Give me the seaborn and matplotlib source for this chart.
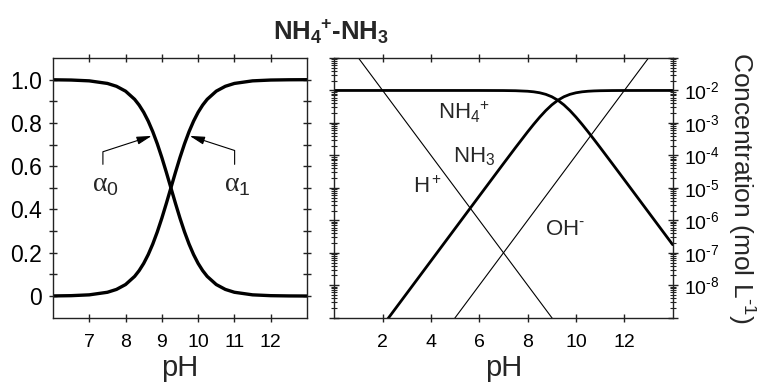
import numpy as np
import pandas as pd
import matplotlib
matplotlib.use("Agg")
import matplotlib.pyplot as plt
from matplotlib.ticker import FixedLocator, LogLocator, FixedFormatter, NullFormatter
import seaborn as sns

# ---- ionisation fractions of the NH4+/NH3 pair (pKa 9.25) ----
ph_frac = [6.0, 6.5, 7.0, 7.5, 7.75, 8.0, 8.25, 8.375, 8.5, 8.625, 8.75, 8.875,
           9.0, 9.125, 9.25, 9.375, 9.5, 9.625, 9.75, 9.875, 10.0, 10.125,
           10.25, 10.5, 10.75, 11.0, 11.5, 12.0, 12.5, 13.0]
alpha0 = [0.9994, 0.9982, 0.9944, 0.9825, 0.9693, 0.9468, 0.9091, 0.8823, 0.8491,
          0.8083, 0.7597, 0.7034, 0.6401, 0.5714, 0.5000, 0.4286, 0.3599, 0.2966,
          0.2403, 0.1917, 0.1509, 0.1177, 0.0909, 0.0532, 0.0307, 0.0175, 0.0056,
          0.0018, 0.0006, 0.0002]
alpha1 = [0.0006, 0.0018, 0.0056, 0.0175, 0.0307, 0.0532, 0.0909, 0.1177, 0.1509,
          0.1917, 0.2403, 0.2966, 0.3599, 0.4286, 0.5000, 0.5714, 0.6401, 0.7034,
          0.7597, 0.8083, 0.8491, 0.8823, 0.9091, 0.9468, 0.9693, 0.9825, 0.9944,
          0.9982, 0.9994, 0.9998]

# ---- log concentrations, total ammonia 0.01 mol/L ----
ph_conc = [0, 2, 4, 6, 7, 7.5, 8, 8.25, 8.5, 8.75, 9, 9.25, 9.5, 9.75, 10, 10.25,
           10.5, 10.75, 11, 11.5, 12, 13, 14]
log_nh4 = [-2.0000, -2.0000, -2.0000, -2.0002, -2.0024, -2.0077, -2.0238, -2.0414,
           -2.0711, -2.1193, -2.1938, -2.3010, -2.4438, -2.6193, -2.8211, -3.0414,
           -3.2738, -3.5135, -3.7577, -4.2524, -4.7507, -5.7502, -6.7501]
log_nh3 = [-11.25, -9.25, -7.25, -5.2502, -4.2524, -3.7577, -3.2738, -3.0414,
           -2.8211, -2.6193, -2.4438, -2.3010, -2.1938, -2.1193, -2.0711, -2.0414,
           -2.0238, -2.0135, -2.0077, -2.0024, -2.0008, -2.0001, -2.0000]
ph_water = [0, 14]
log_h = [0, -14]
log_oh = [-14, 0]

HY = "\u2010"  # short typographic hyphen used in superscripts
left_xticks = [7, 8, 9, 10, 11, 12]
left_yticks = [0, 0.2, 0.4, 0.6, 0.8, 1.0]
left_ylabels = ["0", "0.2", "0.4", "0.6", "0.8", "1.0"]
right_xticks = [2, 4, 6, 8, 10, 12]
conc_exps = [-9, -8, -7, -6, -5, -4, -3, -2, -1]
conc_labels = ["" if e in (-9, -1) else r"$\mathregular{10^{%s%d}}$" % (HY, -e)
               for e in conc_exps]

sns.set_theme(style="ticks")
plt.rcParams["font.family"] = ["Liberation Sans", "DejaVu Sans"]
plt.rcParams["mathtext.fontset"] = "custom"
plt.rcParams["mathtext.rm"] = "Liberation Sans"
plt.rcParams["mathtext.it"] = "Liberation Sans:italic"
plt.rcParams["mathtext.bf"] = "Liberation Sans:bold"
plt.rcParams["axes.edgecolor"] = "#222222"
plt.rcParams["axes.linewidth"] = 1.0
plt.rcParams["xtick.color"] = "#222222"
plt.rcParams["ytick.color"] = "#222222"
plt.rcParams["xtick.labelcolor"] = "black"
plt.rcParams["ytick.labelcolor"] = "black"

frac = pd.DataFrame({"pH": ph_frac, "a0": alpha0, "a1": alpha1})
conc = pd.DataFrame({"pH": ph_conc,
                     "NH4": np.power(10.0, log_nh4),
                     "NH3": np.power(10.0, log_nh3)})
water = pd.DataFrame({"pH": ph_water,
                      "H": np.power(10.0, log_h),
                      "OH": np.power(10.0, log_oh)})

fig = plt.figure(figsize=(7.57, 3.88), dpi=100)
ax1 = fig.add_axes([0.0700, 0.1812, 0.3355, 0.6693])
ax2 = fig.add_axes([0.4416, 0.1812, 0.4470, 0.6693])

# ---- left: fraction diagram ----
sns.lineplot(data=frac, x="pH", y="a0", ax=ax1, color="black", lw=2.4, sort=False)
sns.lineplot(data=frac, x="pH", y="a1", ax=ax1, color="black", lw=2.4, sort=False)
ax1.set_xlim(6, 13)
ax1.set_ylim(-0.1, 1.1)
ax1.xaxis.set_major_locator(FixedLocator(left_xticks))
ax1.yaxis.set_major_locator(FixedLocator(left_yticks))
ax1.yaxis.set_minor_locator(FixedLocator([0.1, 0.3, 0.5, 0.7, 0.9]))
ax1.set_yticklabels(left_ylabels)
ax1.tick_params(which="both", direction="inout", top=True, right=True,
                length=6, width=1)
ax1.tick_params(axis="x", labelsize=14, pad=9)
ax1.tick_params(axis="y", labelsize=16.5, pad=5)
ax1.set_xlabel("pH", fontsize=21, labelpad=2)
ax1.set_ylabel("")

arrow = dict(arrowstyle="-|>,head_length=0.45,head_width=0.12", color="black",
             lw=0.8, shrinkA=4, shrinkB=0, relpos=(0.4, 1.0))
ax1.annotate(r"$\mathregular{α}_0$", xy=(8.72, 0.74), xytext=(7.45, 0.51),
             ha="center", va="center", fontsize=20, family="Liberation Serif",
             arrowprops=dict(connectionstyle="angle,angleA=90,angleB=18,rad=0", **arrow))
ax1.annotate(r"$\mathregular{α}_1$", xy=(9.77, 0.74), xytext=(11.08, 0.51),
             ha="center", va="center", fontsize=20, family="Liberation Serif",
             arrowprops=dict(connectionstyle="angle,angleA=90,angleB=162,rad=0", **arrow))

# ---- right: log concentration diagram ----
sns.lineplot(data=water, x="pH", y="H", ax=ax2, color="black", lw=0.8)
sns.lineplot(data=water, x="pH", y="OH", ax=ax2, color="black", lw=0.8)
sns.lineplot(data=conc, x="pH", y="NH4", ax=ax2, color="black", lw=2.0, sort=False)
sns.lineplot(data=conc, x="pH", y="NH3", ax=ax2, color="black", lw=2.0, sort=False)
ax2.set_yscale("log")
ax2.set_xlim(0, 14)
ax2.set_ylim(1e-9, 1e-1)
ax2.xaxis.set_major_locator(FixedLocator(right_xticks))
ax2.yaxis.set_major_locator(FixedLocator([10.0 ** e for e in conc_exps]))
ax2.yaxis.set_major_formatter(FixedFormatter(conc_labels))
ax2.yaxis.set_minor_locator(LogLocator(base=10, subs=np.arange(2, 10), numticks=30))
ax2.yaxis.set_minor_formatter(NullFormatter())
ax2.tick_params(which="both", direction="inout", top=True, left=True, right=True,
                labelleft=False, labelright=True, width=1)
ax2.tick_params(axis="x", which="major", length=6, labelsize=14, pad=9)
ax2.tick_params(axis="y", which="major", length=7, labelsize=14, pad=5)
ax2.tick_params(axis="y", which="minor", length=5, width=0.8)
ax2.set_xlabel("pH", fontsize=21, labelpad=2)
ax2.yaxis.set_label_position("right")
ax2.set_ylabel(r"Concentration (mol L$\mathregular{^{%s1}}$)" % HY, fontsize=19,
               rotation=270, labelpad=27)

lab = dict(fontsize=16, ha="left", va="center")
ax2.text(4.29, 10 ** -2.67, r"$\mathregular{NH_4\!{}^+}$", **lab)
ax2.text(4.91, 10 ** -4.04, r"$\mathregular{NH_3}$", **lab)
ax2.text(3.26, 10 ** -4.99, r"$\mathregular{H^+}$", **lab)
ax2.text(8.72, 10 ** -6.27, r"$\mathregular{OH^{%s}}$" % HY, **lab)

fig.text(0.437, 0.918, r"$\mathregular{NH_4\!{}^+\!%sNH_3}$" % HY,
         ha="center", va="center", fontsize=18.5, fontweight="bold")

fig.savefig("out.png", dpi=100)
